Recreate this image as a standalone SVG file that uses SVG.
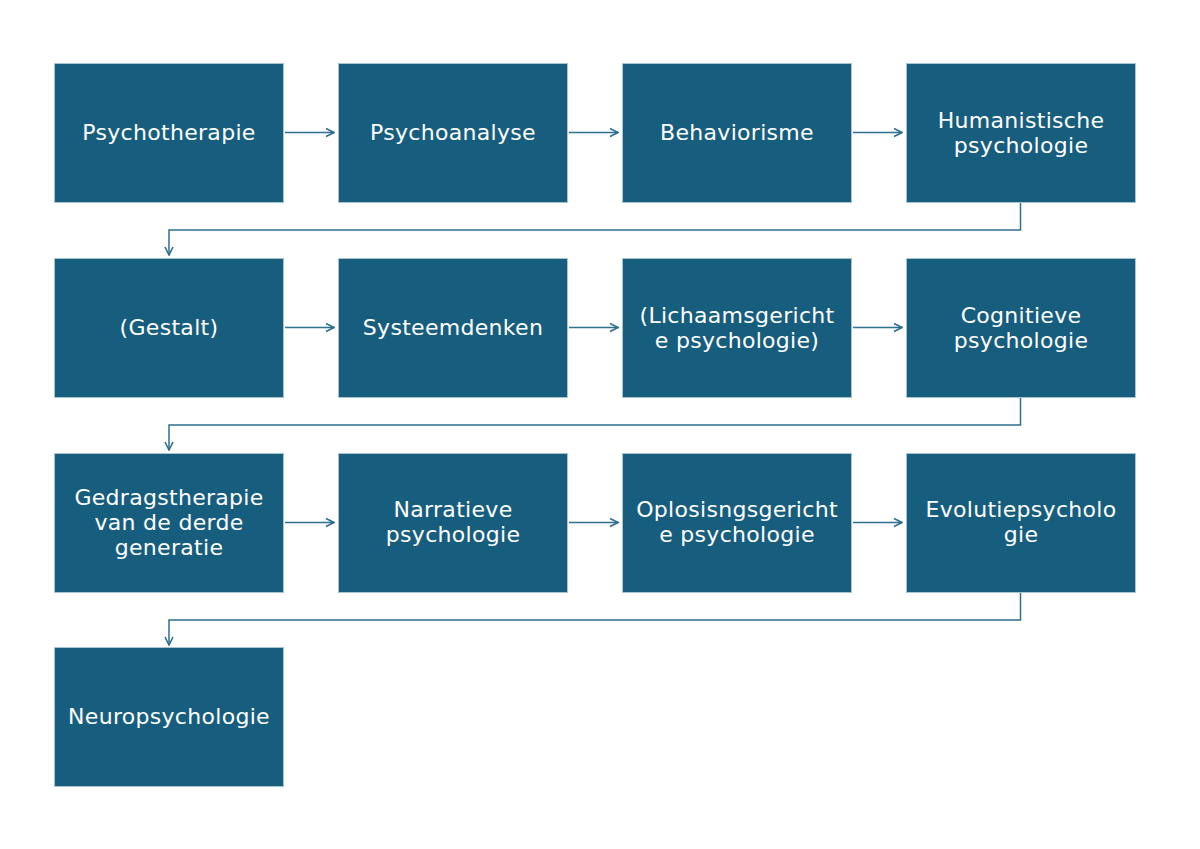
<svg xmlns="http://www.w3.org/2000/svg" width="1200" height="849" viewBox="0 0 1200 849">
<style>
.box{fill:#175e7e;stroke:#a8c3d2;stroke-width:1}
.t{font-family:"DejaVu Sans",sans-serif;font-size:22px;fill:#ffffff;text-anchor:middle;letter-spacing:0.3px}
.c{fill:none;stroke:#2d6f8f;stroke-width:1.5}
</style>
<defs>
<marker id="ah" viewBox="0 0 10 10" refX="9" refY="5" markerWidth="10" markerHeight="10" markerUnits="userSpaceOnUse" orient="auto">
<path d="M1,1 L9,5 L1,9" fill="none" stroke="#2d6f8f" stroke-width="1.6"/>
</marker>
</defs>
<rect width="1200" height="849" fill="#ffffff"/>
<g id="connectors">
<path class="c" d="M285,132.5 H334" marker-end="url(#ah)"/>
<path class="c" d="M569,132.5 H618" marker-end="url(#ah)"/>
<path class="c" d="M853,132.5 H902" marker-end="url(#ah)"/>
<path class="c" d="M1020.5,203 V230 H169 V255" marker-end="url(#ah)"/>
<path class="c" d="M285,327.5 H334" marker-end="url(#ah)"/>
<path class="c" d="M569,327.5 H618" marker-end="url(#ah)"/>
<path class="c" d="M853,327.5 H902" marker-end="url(#ah)"/>
<path class="c" d="M1020.5,398 V425 H169 V450" marker-end="url(#ah)"/>
<path class="c" d="M285,522.5 H334" marker-end="url(#ah)"/>
<path class="c" d="M569,522.5 H618" marker-end="url(#ah)"/>
<path class="c" d="M853,522.5 H902" marker-end="url(#ah)"/>
<path class="c" d="M1020.5,593 V620 H169 V645" marker-end="url(#ah)"/>
</g>
<g id="n1"><rect class="box" x="54.5" y="63.5" width="229" height="139"/><text class="t" x="169" y="139.5">Psychotherapie</text></g>
<g id="n2"><rect class="box" x="338.5" y="63.5" width="229" height="139"/><text class="t" x="453" y="139.5">Psychoanalyse</text></g>
<g id="n3"><rect class="box" x="622.5" y="63.5" width="229" height="139"/><text class="t" x="737" y="139.5">Behaviorisme</text></g>
<g id="n4"><rect class="box" x="906.5" y="63.5" width="229" height="139"/><text class="t" x="1021" y="128">Humanistische</text><text class="t" x="1021" y="153">psychologie</text></g>
<g id="n5"><rect class="box" x="54.5" y="258.5" width="229" height="139"/><text class="t" x="169" y="334.5">(Gestalt)</text></g>
<g id="n6"><rect class="box" x="338.5" y="258.5" width="229" height="139"/><text class="t" x="453" y="334.5">Systeemdenken</text></g>
<g id="n7"><rect class="box" x="622.5" y="258.5" width="229" height="139"/><text class="t" x="737" y="323">(Lichaamsgericht</text><text class="t" x="737" y="348">e psychologie)</text></g>
<g id="n8"><rect class="box" x="906.5" y="258.5" width="229" height="139"/><text class="t" x="1021" y="323">Cognitieve</text><text class="t" x="1021" y="348">psychologie</text></g>
<g id="n9"><rect class="box" x="54.5" y="453.5" width="229" height="139"/><text class="t" x="169" y="505">Gedragstherapie</text><text class="t" x="169" y="530">van de derde</text><text class="t" x="169" y="555">generatie</text></g>
<g id="n10"><rect class="box" x="338.5" y="453.5" width="229" height="139"/><text class="t" x="453" y="517">Narratieve</text><text class="t" x="453" y="542">psychologie</text></g>
<g id="n11"><rect class="box" x="622.5" y="453.5" width="229" height="139"/><text class="t" x="737" y="517">Oplosisngsgericht</text><text class="t" x="737" y="542">e psychologie</text></g>
<g id="n12"><rect class="box" x="906.5" y="453.5" width="229" height="139"/><text class="t" x="1021" y="517">Evolutiepsycholo</text><text class="t" x="1021" y="542">gie</text></g>
<g id="n13"><rect class="box" x="54.5" y="647.5" width="229" height="139"/><text class="t" x="169" y="723.5">Neuropsychologie</text></g>
</svg>
